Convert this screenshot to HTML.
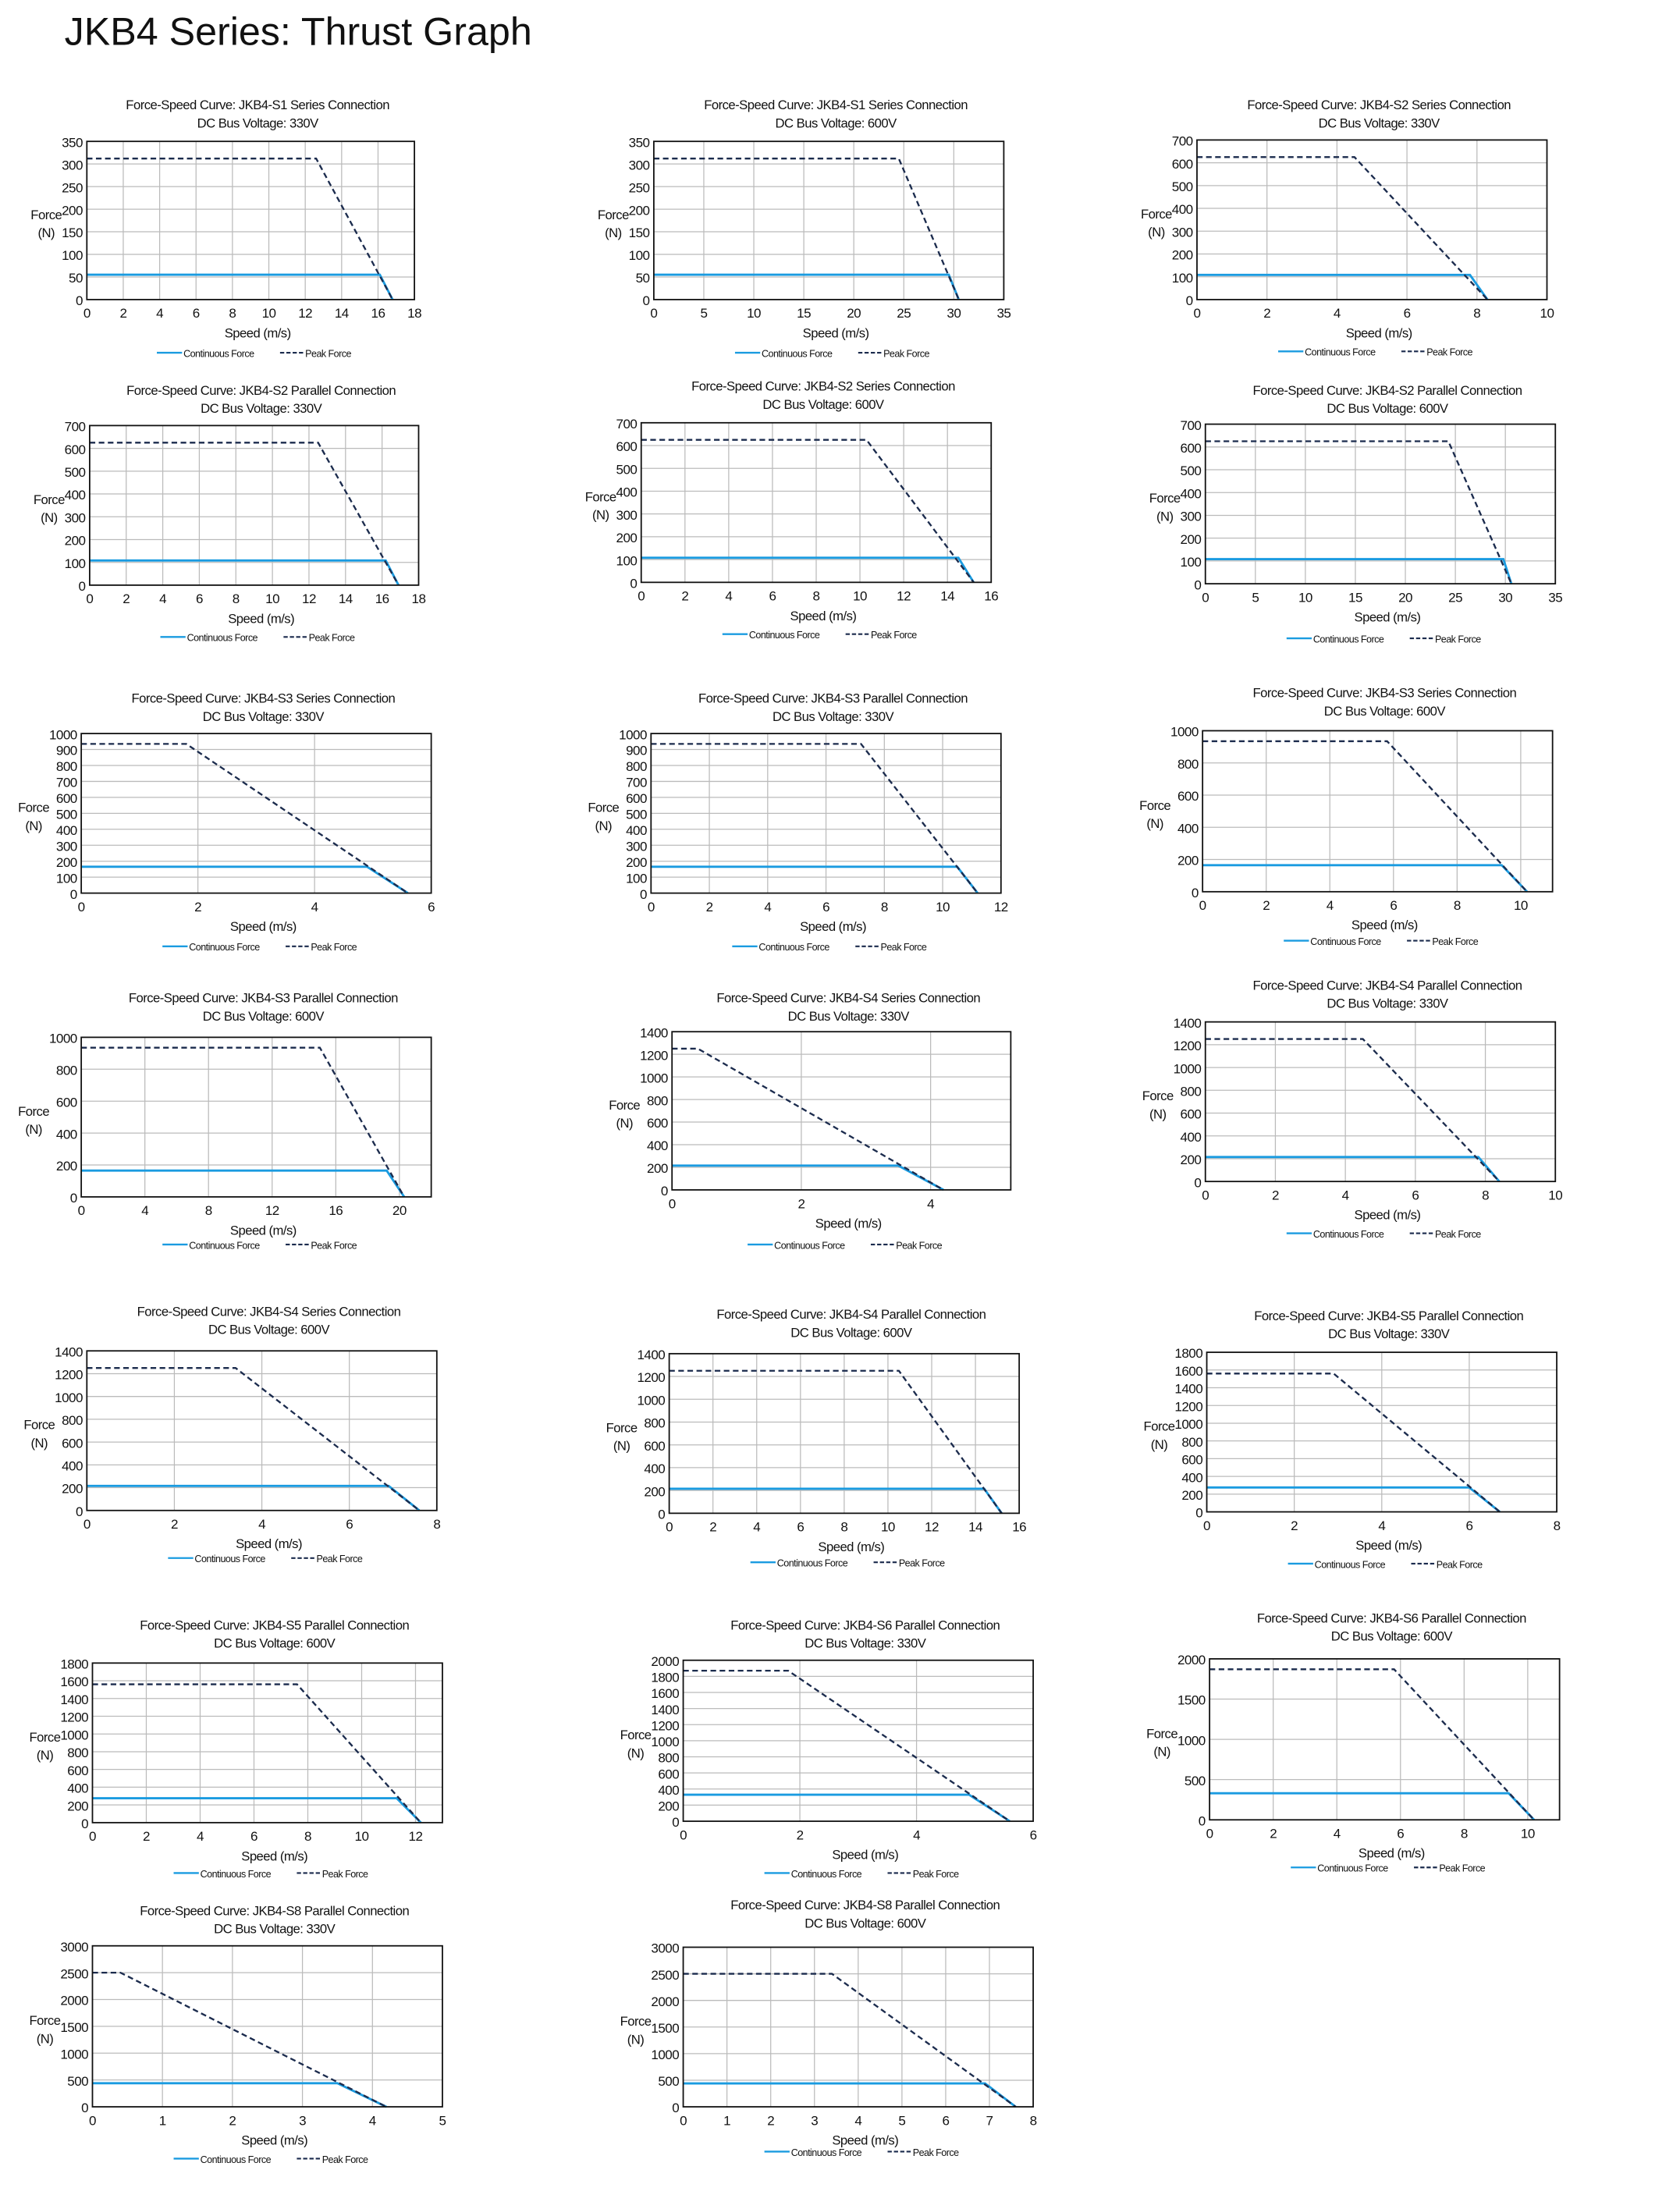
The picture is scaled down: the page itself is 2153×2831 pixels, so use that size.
<!DOCTYPE html>
<html><head><meta charset="utf-8"><style>
html,body{margin:0;padding:0;background:#fff;}
svg{display:block;}
text{font-family:"Liberation Sans Narrow","Liberation Sans",sans-serif;fill:#111;letter-spacing:-0.3px;}
</style></head><body>
<svg id="s" width="2153" height="2831" viewBox="0 0 1200 1578" xmlns="http://www.w3.org/2000/svg">
<text x="46" y="32" font-size="28" style="font-family:'Liberation Sans',sans-serif;letter-spacing:0" fill="#222">JKB4 Series: Thrust Graph</text>
</svg>
<script>
var C=[
["JKB4-S1 Series Connection","330V",75,62,101,296,214,18,2,350,50,312,12.6,16.8,55,16.1,252],
["JKB4-S1 Series Connection","600V",75,467,101,717,214,35,5,350,50,312,24.5,30.5,55,29.5,252],
["JKB4-S2 Series Connection","330V",75,855,100,1105,214,10,2,700,100,625,4.5,8.3,108,7.8,251],
["JKB4-S2 Parallel Connection","330V",279,64,304,299,418,18,2,700,100,625,12.5,16.9,108,16.2,455],
["JKB4-S2 Series Connection","600V",276,458,302,708,416,16,2,700,100,625,10.3,15.2,108,14.5,453],
["JKB4-S2 Parallel Connection","600V",279,861,303,1111,417,35,5,700,100,625,24.3,30.6,108,29.8,456],
["JKB4-S3 Series Connection","330V",499,58,524,308,638,6,2,1000,100,935,1.8,5.6,165,4.9,676],
["JKB4-S3 Parallel Connection","330V",499,465,524,715,638,12,2,1000,100,935,7.2,11.2,165,10.5,676],
["JKB4-S3 Series Connection","600V",495,859,522,1109,637,11,2,1000,200,935,5.8,10.2,165,9.4,672],
["JKB4-S3 Parallel Connection","600V",713,58,741,308,855,22,4,1000,200,935,15,20.3,165,19.2,889],
["JKB4-S4 Series Connection","330V",713,480,737,722,850,5.24,2,1400,200,1250,0.4,4.2,215,3.5,889],
["JKB4-S4 Parallel Connection","330V",704,861,730,1111,844,10,2,1400,200,1250,4.5,8.4,215,7.8,881],
["JKB4-S4 Series Connection","600V",937,62,965,312,1079,8,2,1400,200,1250,3.4,7.6,215,6.9,1113],
["JKB4-S4 Parallel Connection","600V",939,478,967,728,1081,16,2,1400,200,1250,10.5,15.2,215,14.4,1116],
["JKB4-S5 Parallel Connection","330V",940,862,966,1112,1080,8,2,1800,200,1560,2.9,6.7,275,6,1117],
["JKB4-S5 Parallel Connection","600V",1161,66,1188,316,1302,13,2,1800,200,1560,7.6,12.2,275,11.3,1338],
["JKB4-S6 Parallel Connection","330V",1161,488,1186,738,1301,6,2,2000,200,1870,1.8,5.6,330,4.9,1338],
["JKB4-S6 Parallel Connection","600V",1156,864,1185,1114,1300,11,2,2000,500,1870,5.8,10.2,330,9.4,1334],
["JKB4-S8 Parallel Connection","330V",1365,66,1390,316,1505,5,1,3000,500,2500,0.4,4.2,440,3.5,1542],
["JKB4-S8 Parallel Connection","600V",1361,488,1391,738,1505,8,1,3000,500,2500,3.4,7.6,440,6.9,1537]
];
var h='';
C.forEach(function(c){
 var ty=c[2],l=c[3],t=c[4],r=c[5],b=c[6],xm=c[7],xs=c[8],ym=c[9],ys=c[10];
 var X=function(v){return l+(r-l)*v/xm},Y=function(v){return b-(b-t)*v/ym};
 var cx=(l+r)/2+5;
 h+='<text x="'+cx+'" y="'+(ty+3)+'" font-size="9.3" text-anchor="middle">Force-Speed Curve: '+c[0]+'</text>';
 h+='<text x="'+cx+'" y="'+(ty+16)+'" font-size="9.3" text-anchor="middle">DC Bus Voltage: '+c[1]+'</text>';
 for(var v=xs;v<xm-1e-6;v+=xs){h+='<line x1="'+X(v)+'" y1="'+t+'" x2="'+X(v)+'" y2="'+b+'" stroke="#bbb" stroke-width="0.7"/>';}
 for(var v=ys;v<ym-1e-6;v+=ys){h+='<line x1="'+l+'" y1="'+Y(v)+'" x2="'+r+'" y2="'+Y(v)+'" stroke="#bbb" stroke-width="0.7"/>';}
 for(var v=0;v<=xm+1e-6;v+=xs){h+='<text x="'+X(v)+'" y="'+(b+13)+'" font-size="9.5" text-anchor="middle">'+v+'</text>';}
 for(var v=0;v<=ym+1e-6;v+=ys){h+='<text x="'+(l-3)+'" y="'+(Y(v)+4)+'" font-size="9.5" text-anchor="end">'+v+'</text>';}
 var my=(t+b)/2, lw=String(ym).length*5+3;
 h+='<text x="'+(l-lw-11)+'" y="'+(my-1)+'" font-size="9.3" text-anchor="middle">Force</text>';
 h+='<text x="'+(l-lw-11)+'" y="'+(my+12)+'" font-size="9.3" text-anchor="middle">(N)</text>';
 h+='<text x="'+cx+'" y="'+(b+27)+'" font-size="9.3" text-anchor="middle">Speed (m/s)</text>';
 h+='<polyline points="'+X(0)+','+Y(c[14])+' '+X(c[15])+','+Y(c[14])+' '+X(c[13])+','+Y(0)+'" fill="none" stroke="#1a9be0" stroke-width="1.6"/>';
 h+='<polyline points="'+X(0)+','+Y(c[11])+' '+X(c[12])+','+Y(c[11])+' '+X(c[13])+','+Y(0)+'" fill="none" stroke="#1b2b4d" stroke-width="1.3" stroke-dasharray="4,2.5"/>';
 h+='<rect x="'+l+'" y="'+t+'" width="'+(r-l)+'" height="'+(b-t)+'" fill="none" stroke="#111" stroke-width="1"/>';
 var ly=c[16], lx=cx-72;
 h+='<line x1="'+lx+'" y1="'+ly+'" x2="'+(lx+18)+'" y2="'+ly+'" stroke="#1a9be0" stroke-width="1.3"/>';
 h+='<text x="'+(lx+19)+'" y="'+(ly+3)+'" font-size="7">Continuous Force</text>';
 h+='<line x1="'+(lx+88)+'" y1="'+ly+'" x2="'+(lx+105)+'" y2="'+ly+'" stroke="#1b2b4d" stroke-width="1.2" stroke-dasharray="3,1.5"/>';
 h+='<text x="'+(lx+106)+'" y="'+(ly+3)+'" font-size="7">Peak Force</text>';
});
document.getElementById('s').insertAdjacentHTML('beforeend',h);
</script>
</body></html>
